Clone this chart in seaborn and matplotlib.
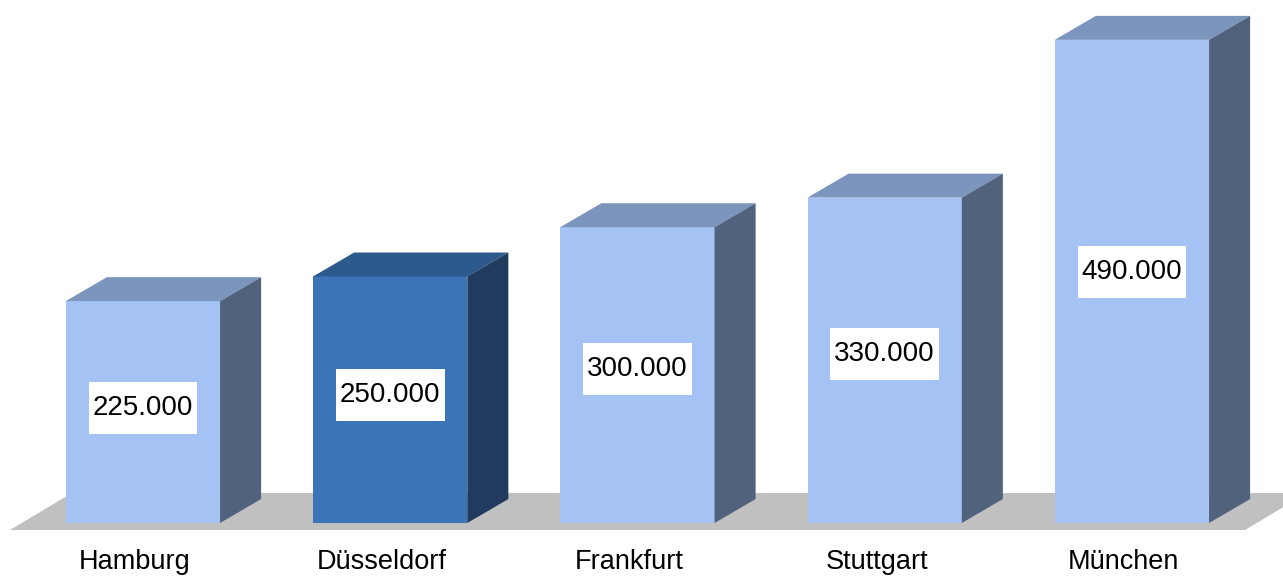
import seaborn as sns
import matplotlib.pyplot as plt
from matplotlib.patches import Polygon, Rectangle
from matplotlib.transforms import ScaledTranslation

cities = ['Hamburg', 'Düsseldorf', 'Frankfurt', 'Stuttgart', 'München']
values = [225000, 250000, 300000, 330000, 490000]
value_labels = ['225.000', '250.000', '300.000', '330.000', '490.000']

# front / top / side colours, Düsseldorf highlighted
front = ['#A4C3F4', '#3C74B8', '#A4C3F4', '#A4C3F4', '#A4C3F4']
top = ['#7B95BD', '#2D598C', '#7B95BD', '#7B95BD', '#7B95BD']
side = ['#51627D', '#203B5E', '#51627D', '#51627D', '#51627D']

sns.set_style('white')
plt.rcParams['font.family'] = ['Liberation Sans', 'DejaVu Sans']

fig = plt.figure(figsize=(12.83, 5.78), dpi=100)
ax = fig.add_axes([0, 48 / 578, 1, 530 / 578])

# depth of the fake 3d extrusion (category units, value units)
dx, dy = 0.166, 24300

# grey floor
floor = Polygon([(-0.538, -7100), (4.457, -7100), (4.708, 30400), (-0.287, 30400)],
                closed=True, facecolor='#C0C0C0', edgecolor='none', zorder=0, clip_on=False)
ax.add_patch(floor)

sns.barplot(x=cities, y=values, hue=cities, palette=front, width=0.624,
            legend=False, ax=ax, zorder=2, linewidth=0, saturation=1)

bars = [p for p in ax.patches if p is not floor]
for i, bar in enumerate(bars):
    x0, w, h = bar.get_x(), bar.get_width(), bar.get_height()
    ax.add_patch(Polygon([(x0, h), (x0 + w, h), (x0 + w + dx, h + dy), (x0 + dx, h + dy)],
                         closed=True, facecolor=top[i], edgecolor='none', zorder=2))
    ax.add_patch(Polygon([(x0 + w, 0), (x0 + w + dx, dy), (x0 + w + dx, h + dy), (x0 + w, h)],
                         closed=True, facecolor=side[i], edgecolor='none', zorder=2))
    cx, cy = x0 + w / 2, h * 0.52
    ax.add_patch(Rectangle((cx - 0.22, cy - 26300), 0.44, 52600,
                           facecolor='white', edgecolor='none', zorder=3))
    ax.text(cx, cy, value_labels[i], ha='center', va='center',
            fontsize=20, color='black', zorder=4)

ax.set_xlim(-0.578, 4.611)
ax.set_ylim(-7100, 530400)
ax.set_yticks([])
ax.tick_params(axis='x', length=0, pad=14, labelsize=19.5, labelcolor='black')
shift = ScaledTranslation(-8 / 100, 0, fig.dpi_scale_trans)
for lbl in ax.get_xticklabels():
    lbl.set_transform(lbl.get_transform() + shift)
ax.set_xlabel('')
ax.set_ylabel('')
sns.despine(ax=ax, left=True, bottom=True)

fig.savefig('out.png', dpi=100)
